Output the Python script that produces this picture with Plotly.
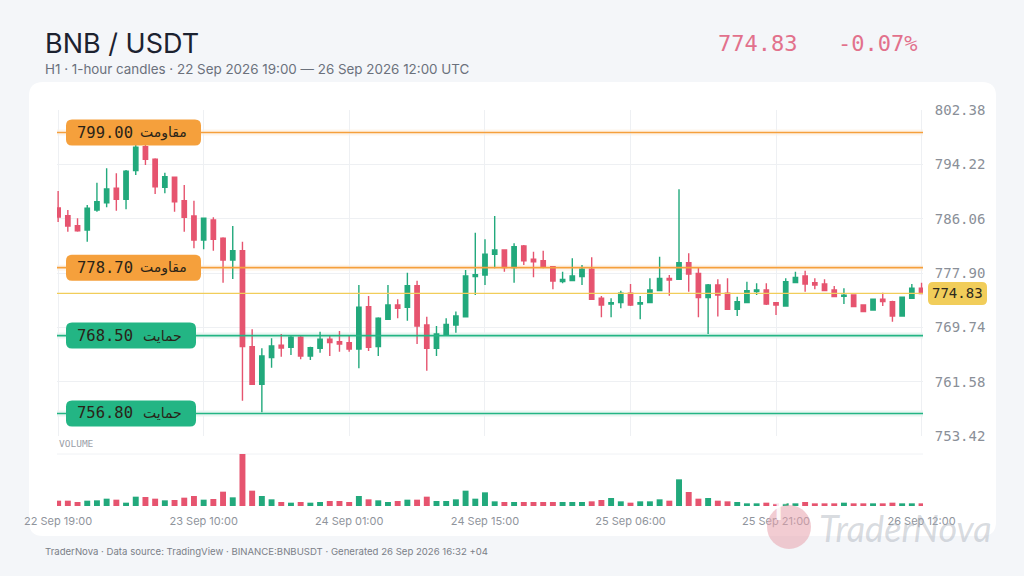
import plotly.graph_objects as go
import pandas as pd

# ---------------- data ----------------
times = pd.date_range("2026-09-22 19:00", periods=90, freq="h")

opens = [787.66, 786.51, 785.00, 784.36, 787.36, 788.46, 790.62, 788.97, 793.27, 796.87,
         794.98, 790.77, 792.27, 788.76, 786.46, 782.86, 785.86, 783.11, 779.85, 781.25,
         766.84, 761.19, 765.19, 767.04, 766.74, 768.25, 765.44, 766.59, 767.94, 767.59,
         767.44, 766.49, 772.85, 766.84, 770.95, 773.10, 772.75, 776.00, 770.09, 766.59,
         768.60, 770.09, 771.34, 777.35, 777.60, 780.71, 781.36, 778.70, 781.96, 779.96,
         779.75, 778.85, 776.60, 776.75, 777.35, 778.46, 774.10, 773.25, 773.45, 774.85,
         773.25, 773.45, 775.25, 777.10, 776.95, 779.45, 777.85, 774.20, 776.10, 774.85,
         772.45, 773.45, 775.10, 775.35, 773.45, 772.95, 776.45, 777.45, 776.45, 776.25,
         775.35, 774.40, 774.60, 773.10, 772.35, 773.95, 773.60, 771.45, 774.10, 775.60]
highs = [790.22, 787.36, 786.12, 788.10, 791.46, 793.62, 792.87, 793.37, 797.40, 797.30,
         795.13, 792.97, 792.37, 791.12, 788.76, 786.20, 786.27, 783.26, 784.96, 782.60,
         769.44, 766.59, 768.09, 768.74, 768.60, 768.60, 766.84, 769.09, 768.60, 769.19,
         768.60, 776.10, 774.45, 771.25, 776.10, 773.95, 777.95, 776.75, 771.34, 769.94,
         771.10, 772.10, 778.35, 783.96, 782.96, 786.46, 781.46, 782.36, 782.10, 781.10,
         781.25, 778.90, 778.10, 780.10, 779.10, 780.26, 774.45, 774.10, 775.25, 776.25,
         774.45, 777.10, 780.35, 777.60, 790.47, 780.86, 778.75, 776.25, 776.95, 777.10,
         774.35, 776.60, 776.35, 776.35, 773.50, 777.10, 778.10, 778.25, 777.10, 776.95,
         775.95, 775.60, 774.65, 773.15, 773.95, 774.95, 773.75, 774.25, 776.25, 776.45]
lows = [785.56, 784.10, 784.10, 782.60, 787.10, 787.77, 787.26, 787.47, 792.62, 794.12,
        789.77, 789.87, 787.11, 784.10, 781.61, 781.46, 781.25, 776.45, 777.00, 758.73,
        761.10, 756.98, 763.68, 765.33, 765.59, 764.94, 764.84, 765.94, 765.44, 766.09,
        766.09, 763.59, 766.19, 765.44, 770.85, 771.10, 770.74, 767.24, 763.23, 765.44,
        768.50, 768.94, 771.20, 774.60, 776.10, 778.60, 778.10, 776.45, 779.10, 777.25,
        778.60, 775.45, 776.35, 776.65, 776.10, 773.85, 771.25, 771.25, 772.60, 772.95,
        770.95, 773.35, 775.15, 774.50, 776.85, 775.10, 771.25, 768.74, 771.35, 772.40,
        771.45, 773.40, 774.60, 773.10, 771.60, 772.90, 776.40, 775.10, 775.45, 775.20,
        774.30, 773.25, 772.80, 772.05, 772.30, 772.95, 770.59, 771.40, 774.05, 774.70]
closes = [786.31, 784.96, 784.25, 787.62, 788.61, 790.52, 788.97, 793.20, 796.78, 794.98,
          790.86, 792.37, 788.61, 786.27, 782.86, 786.12, 782.96, 779.85, 781.25, 766.84,
          761.19, 765.44, 766.94, 766.64, 768.25, 765.44, 766.69, 767.94, 767.44, 767.24,
          766.49, 772.75, 766.74, 771.10, 773.10, 772.60, 776.00, 769.94, 766.59, 768.74,
          770.19, 771.44, 777.45, 777.65, 780.71, 781.36, 778.70, 781.86, 779.75, 779.60,
          778.75, 776.70, 776.95, 777.45, 778.46, 773.95, 773.10, 773.45, 774.85, 773.10,
          773.45, 775.35, 777.10, 776.85, 779.45, 777.75, 774.20, 776.10, 774.60, 772.45,
          773.60, 775.25, 775.35, 773.25, 773.10, 776.60, 777.25, 776.25, 776.10, 775.25,
          774.35, 774.55, 772.85, 772.10, 773.95, 773.60, 771.45, 774.25, 775.60, 774.83]
volumes = [1600, 1600, 1200, 1600, 1700, 2200, 1900, 1000, 2800, 2700,
           2200, 1700, 1800, 2500, 3000, 1900, 2100, 4300, 2600, 15600,
           4600, 3000, 2000, 1200, 1000, 1200, 1000, 1200, 1500, 1500,
           1200, 3000, 2000, 1700, 1200, 1500, 1900, 1900, 2800, 1500,
           1500, 2000, 4600, 2200, 4100, 1400, 1200, 1200, 1200, 1200,
           1200, 1200, 1200, 1200, 1200, 1400, 1800, 2400, 1400, 1000,
           1400, 1400, 2000, 1600, 8000, 4200, 2200, 2400, 1600, 1400,
           1200, 800, 800, 1000, 800, 800, 800, 1200, 800, 800,
           800, 1000, 800, 800, 800, 800, 1000, 800, 800, 800]

price_ticks = [753.42, 761.58, 769.74, 777.90, 786.06, 794.22, 802.38]
time_ticks = ["2026-09-22 19:00", "2026-09-23 10:00", "2026-09-24 01:00", "2026-09-24 15:00",
              "2026-09-25 06:00", "2026-09-25 21:00", "2026-09-26 12:00"]
time_tick_labels = ["22 Sep 19:00", "23 Sep 10:00", "24 Sep 01:00", "24 Sep 15:00",
                    "25 Sep 06:00", "25 Sep 21:00", "26 Sep 12:00"]

levels = [799.00, 778.70, 768.50, 756.80]
level_names = ["مقاومت", "مقاومت", "حمایت", "حمایت"]
level_kinds = ["res", "res", "sup", "sup"]
last_price = 774.83
change_pct = "-0.07%"

# ---------------- style ----------------
GREEN = "#22a97c"
RED = "#e6546f"
ORANGE = "#f5a03c"
SUPG = "#23b584"
GOLD = "#f1cd5a"
MONO = "DejaVu Sans Mono"
SANS = "Inter"
PAGE_BG = "#f4f6f9"

L, R, T, B = 57, 101, 110, 70
W, H = 1024, 576
PW, PH = W - L - R, H - T - B


def fx(px):
    return (px - L) / PW


def fy(py):
    return (H - B - py) / PH


def rrect(cx, cy, w, h, r):
    x0, x1, y0, y1 = cx - w / 2, cx + w / 2, cy - h / 2, cy + h / 2
    return (f"M {x0 + r},{y0} L {x1 - r},{y0} Q {x1},{y0} {x1},{y0 + r} "
            f"L {x1},{y1 - r} Q {x1},{y1} {x1 - r},{y1} L {x0 + r},{y1} "
            f"Q {x0},{y1} {x0},{y1 - r} L {x0},{y0 + r} Q {x0},{y0} {x0 + r},{y0} Z")


fig = go.Figure()

fig.add_trace(go.Candlestick(
    x=times, open=opens, high=highs, low=lows, close=closes,
    increasing=dict(line=dict(color=GREEN, width=1.4), fillcolor=GREEN),
    decreasing=dict(line=dict(color=RED, width=1.4), fillcolor=RED),
    whiskerwidth=0, xaxis="x", yaxis="y", showlegend=False, hoverinfo="skip"))

vol_colors = [GREEN if c >= o else RED for o, c in zip(opens, closes)]
fig.add_trace(go.Bar(x=times, y=volumes, marker=dict(color=vol_colors, line=dict(width=0)),
                     width=2.2e6, xaxis="x2", yaxis="y2", showlegend=False, hoverinfo="skip"))

shapes = []
# white card
cx0, cx1, cy0, cy1 = fx(29), fx(996), fy(536), fy(82)
rx, ry = 14 / PW, 14 / PH
shapes.append(dict(type="path", xref="paper", yref="paper", layer="below",
                   path=(f"M {cx0 + rx},{cy0} L {cx1 - rx},{cy0} Q {cx1},{cy0} {cx1},{cy0 + ry} "
                         f"L {cx1},{cy1 - ry} Q {cx1},{cy1} {cx1 - rx},{cy1} L {cx0 + rx},{cy1} "
                         f"Q {cx0},{cy1} {cx0},{cy1 - ry} L {cx0},{cy0 + ry} Q {cx0},{cy0} {cx0 + rx},{cy0} Z"),
                   fillcolor="white", line=dict(width=0)))
# volume panel top line
shapes.append(dict(type="line", xref="paper", yref="paper", x0=0, x1=1, y0=fy(454), y1=fy(454),
                   line=dict(color="#f0f2f5", width=1), layer="below"))

annotations = []
for lvl, name, kind in zip(levels, level_names, level_kinds):
    col = ORANGE if kind == "res" else SUPG
    shapes.append(dict(type="rect", xref="paper", yref="y", x0=0, x1=1, y0=lvl - 0.45, y1=lvl + 0.45,
                       fillcolor=col, opacity=0.10, line=dict(width=0), layer="below"))
    shapes.append(dict(type="line", xref="paper", yref="y", x0=0, x1=1, y0=lvl, y1=lvl,
                       line=dict(color=col, width=1.6)))
    bw = 135 if kind == "res" else 130
    shapes.append(dict(type="path", xref="paper", yref="y", xsizemode="pixel", ysizemode="pixel",
                       xanchor=fx(66 + bw / 2), yanchor=lvl,
                       path=rrect(0, 0, bw, 26, 6), fillcolor=col, line=dict(width=0)))
    annotations.append(dict(xref="paper", yref="y", x=fx(75), y=lvl, xanchor="left", yanchor="middle",
                            text=f"{lvl:.2f}", showarrow=False,
                            font=dict(family=MONO, size=15.5, color="#2a2418")))
    annotations.append(dict(xref="paper", yref="y", x=fx(66 + bw - 12), y=lvl, xanchor="right",
                            yanchor="middle", text=name, showarrow=False,
                            font=dict(family="DejaVu Sans", size=14, color="#2a2418")))

# last price line and tag
shapes.append(dict(type="line", xref="paper", yref="y", x0=0, x1=1, y0=last_price, y1=last_price,
                   line=dict(color=GOLD, width=1.2)))
shapes.append(dict(type="path", xref="paper", yref="y", xsizemode="pixel", ysizemode="pixel",
                   xanchor=fx(957.5), yanchor=last_price, path=rrect(0, 0, 59, 23, 5),
                   fillcolor=GOLD, line=dict(width=0)))
annotations.append(dict(xref="paper", yref="y", x=fx(957.5), y=last_price, xanchor="center",
                        yanchor="middle", text=f"{last_price:.2f}", showarrow=False,
                        font=dict(family=MONO, size=14, color="#2d2a1e")))

# watermark
shapes.append(dict(type="circle", xref="paper", yref="paper", xsizemode="pixel", ysizemode="pixel",
                   xanchor=fx(789), yanchor=fy(527), x0=-22, x1=22, y0=-22, y1=22,
                   fillcolor="#e7a3ad", opacity=0.55, line=dict(width=0)))
annotations.append(dict(xref="paper", yref="paper", x=fx(789), y=fy(528), text="<b>T</b>",
                        showarrow=False, font=dict(family=SANS, size=26, color="rgba(255,255,255,0.85)")))
annotations.append(dict(xref="paper", yref="paper", x=fx(817), y=fy(528), xanchor="left", yanchor="middle",
                        text="<i>TraderNova</i>", showarrow=False,
                        font=dict(family="Lato", size=36, color="rgba(170,176,186,0.45)")))

# header
annotations += [
    dict(xref="paper", yref="paper", x=fx(43), y=fy(43), xanchor="left", yanchor="middle",
         text="BNB / USDT", showarrow=False, font=dict(family=SANS, size=27, color="#1c2230")),
    dict(xref="paper", yref="paper", x=fx(43), y=fy(69), xanchor="left", yanchor="middle",
         text="H1 · 1-hour candles · 22 Sep 2026 19:00 — 26 Sep 2026 12:00 UTC", showarrow=False,
         font=dict(family=SANS, size=13.4, color="#6b717c")),
    dict(xref="paper", yref="paper", x=fx(716), y=fy(43), xanchor="left", yanchor="middle",
         text=f"{last_price:.2f}", showarrow=False, font=dict(family=MONO, size=22, color="#e2718c")),
    dict(xref="paper", yref="paper", x=fx(836), y=fy(43), xanchor="left", yanchor="middle",
         text=change_pct, showarrow=False, font=dict(family=MONO, size=22, color="#e2718c")),
    dict(xref="paper", yref="paper", x=fx(57), y=fy(443), xanchor="left", yanchor="middle",
         text="VOLUME", showarrow=False, font=dict(family=MONO, size=9.5, color="#9aa0a8")),
    dict(xref="paper", yref="paper", x=fx(43), y=fy(551), xanchor="left", yanchor="middle",
         text="TraderNova · Data source: TradingView · BINANCE:BNBUSDT · Generated 26 Sep 2026 16:32 +04",
         showarrow=False, font=dict(family=SANS, size=9.6, color="#7b8088")),
]

x_range = [pd.Timestamp("2026-09-22 18:53"), pd.Timestamp("2026-09-26 12:09")]

fig.update_layout(
    width=W, height=H, margin=dict(l=L, r=R, t=T, b=B),
    paper_bgcolor=PAGE_BG, plot_bgcolor="rgba(0,0,0,0)",
    showlegend=False, boxgap=0.36,
    xaxis=dict(domain=[0, 1], anchor="y", type="date", range=x_range, rangeslider=dict(visible=False),
               tickvals=time_ticks, showticklabels=False, showgrid=True, gridcolor="#eef0f3",
               gridwidth=1, zeroline=False, showline=False),
    xaxis2=dict(domain=[0, 1], anchor="y2", type="date", matches="x", tickvals=time_ticks,
                ticktext=time_tick_labels, showgrid=False, zeroline=False, showline=False,
                ticks="outside", ticklen=5, tickcolor="rgba(0,0,0,0)",
                tickfont=dict(family=SANS, size=11, color="#8f949c")),
    yaxis=dict(domain=[fy(436), 1], anchor="x", side="right", range=[price_ticks[0], price_ticks[-1]],
               tickvals=price_ticks, ticktext=[f"{v:.2f}" for v in price_ticks],
               tickfont=dict(family=MONO, size=14, color="#8a8f98"), showgrid=True,
               gridcolor="#eef0f3", gridwidth=1, zeroline=False, showline=False,
               ticks="outside", ticklen=8, tickcolor="rgba(0,0,0,0)"),
    yaxis2=dict(domain=[0, fy(454)], anchor="x2", range=[0, max(volumes)], showticklabels=False,
                showgrid=False, zeroline=False, showline=False),
    shapes=shapes, annotations=annotations,
)

fig.write_html(
    "out.html",
    config={"displayModeBar": False, "staticPlot": True},
    post_script=(f"document.body.style.margin='0';document.body.style.padding='0';"
                 f"document.body.style.background='{PAGE_BG}';"
                 f"document.documentElement.style.overflow='hidden';"),
)
